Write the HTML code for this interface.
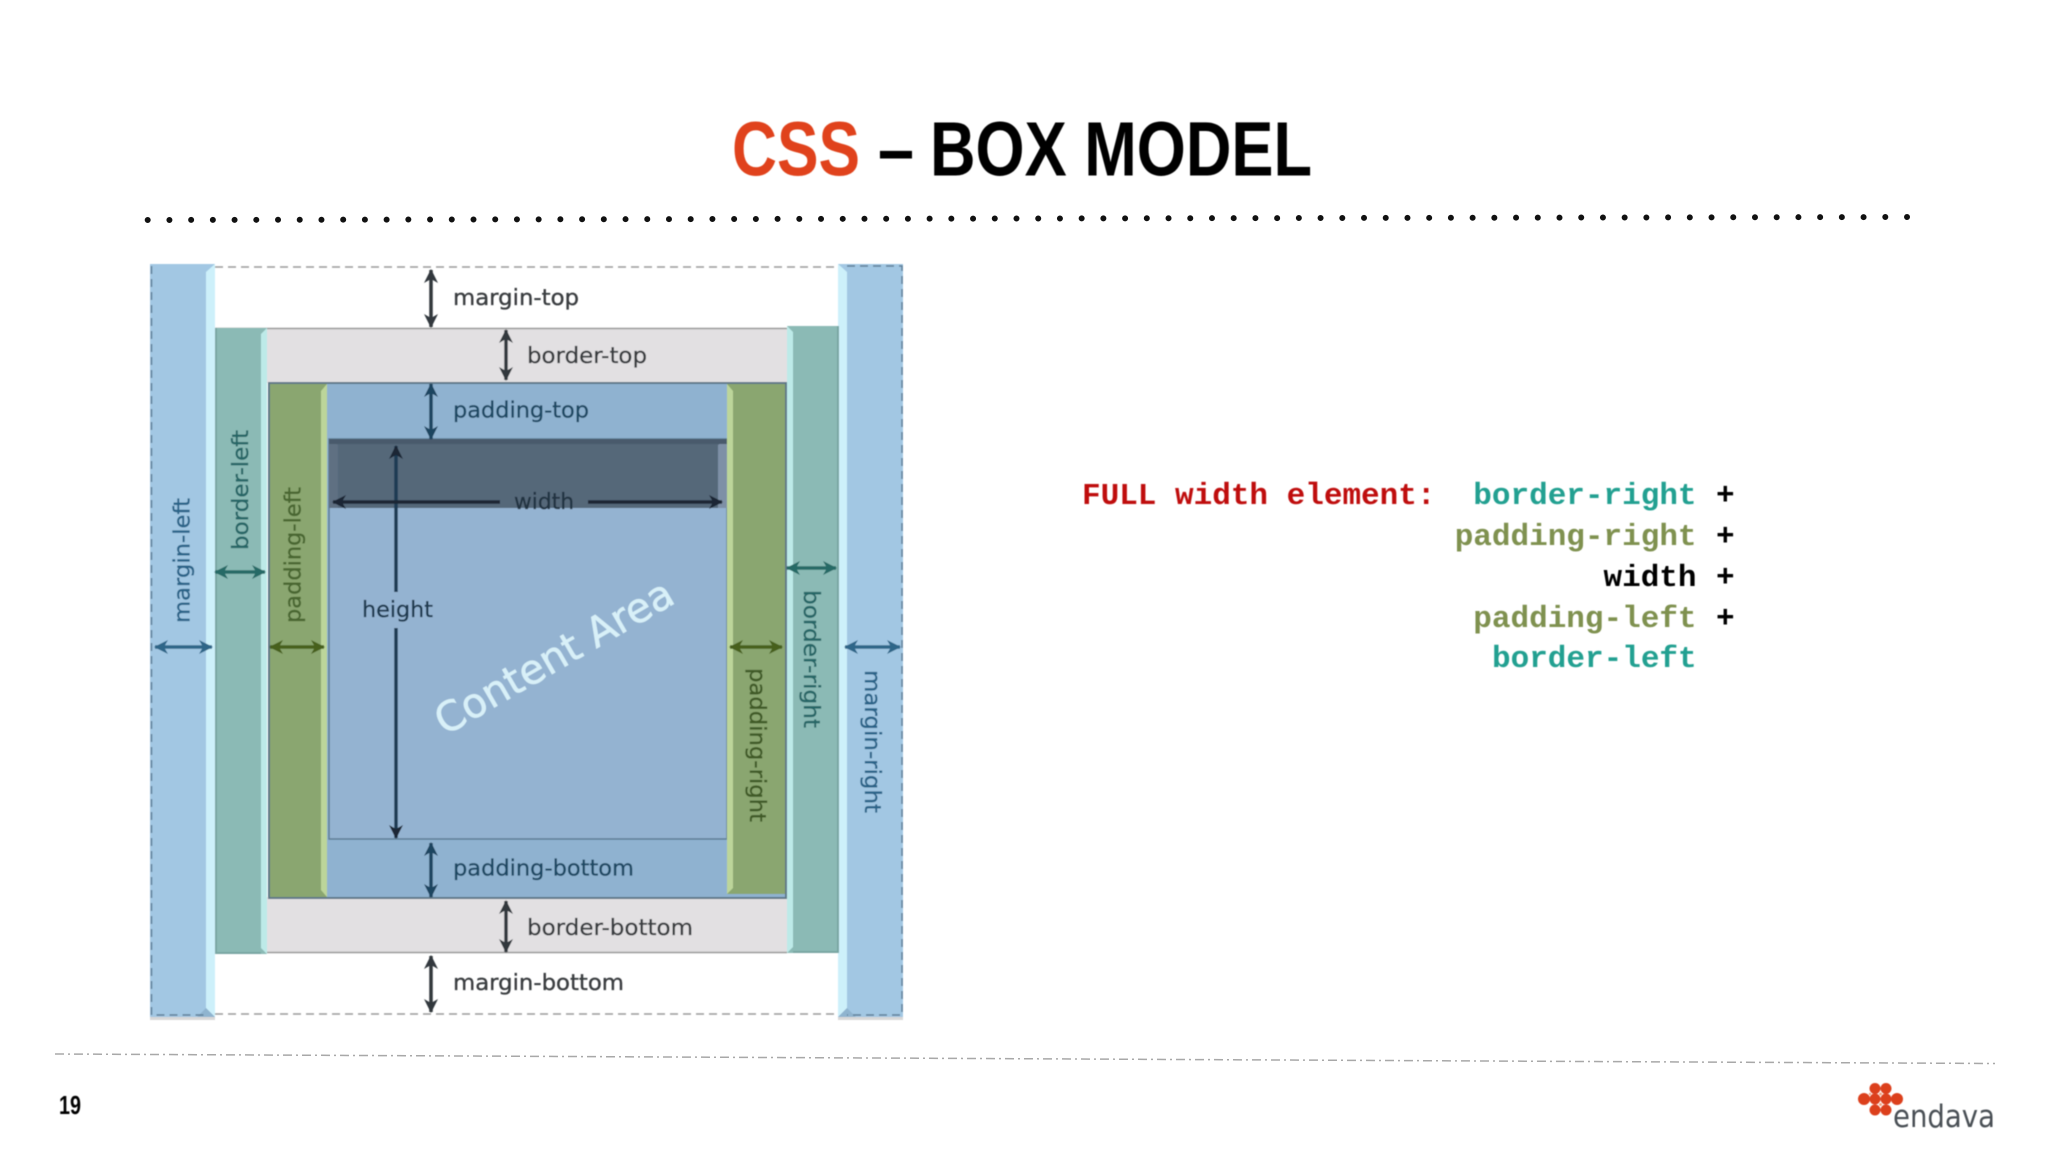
<!DOCTYPE html>
<html><head><meta charset="utf-8"><title>CSS Box Model</title>
<style>
html,body{margin:0;padding:0;background:#fff;width:2048px;height:1152px;overflow:hidden}
svg{display:block}
.l{font-family:"DejaVu Sans",sans-serif;font-size:22.5px;stroke-width:.35px}
.m{font-family:"Liberation Mono",monospace;font-weight:bold;font-size:31px}
.t{font-family:"Liberation Sans",sans-serif;font-weight:bold;font-size:77px}
</style></head><body>
<svg width="2048" height="1152" viewBox="0 0 2048 1152" xmlns="http://www.w3.org/2000/svg">
<defs>
<marker id="aD" markerUnits="userSpaceOnUse" markerWidth="16" markerHeight="16" refX="13" refY="8" orient="auto-start-reverse"><path d="M14,8 L0,1 L4,8 L0,15Z" fill="#33383d"/></marker>
<marker id="aN" markerUnits="userSpaceOnUse" markerWidth="16" markerHeight="16" refX="13" refY="8" orient="auto-start-reverse"><path d="M14,8 L0,1 L4,8 L0,15Z" fill="#1d4560"/></marker>
<marker id="aK" markerUnits="userSpaceOnUse" markerWidth="16" markerHeight="16" refX="13" refY="8" orient="auto-start-reverse"><path d="M14,8 L0,1 L4,8 L0,15Z" fill="#1a2835"/></marker>
<marker id="aT" markerUnits="userSpaceOnUse" markerWidth="16" markerHeight="16" refX="13" refY="8" orient="auto-start-reverse"><path d="M14,8 L0,1 L4,8 L0,15Z" fill="#256a66"/></marker>
<marker id="aO" markerUnits="userSpaceOnUse" markerWidth="16" markerHeight="16" refX="13" refY="8" orient="auto-start-reverse"><path d="M14,8 L0,1 L4,8 L0,15Z" fill="#46601f"/></marker>
<marker id="aB" markerUnits="userSpaceOnUse" markerWidth="16" markerHeight="16" refX="13" refY="8" orient="auto-start-reverse"><path d="M14,8 L0,1 L4,8 L0,15Z" fill="#2f6688"/></marker>
<filter id="b" x="-2%" y="-2%" width="104%" height="104%"><feGaussianBlur stdDeviation="0.6"/></filter>
</defs>
<rect width="2048" height="1152" fill="#fff"/>

<!-- Title -->
<g filter="url(#b)">
<text class="t" x="732" y="175.500" fill="#e0431c" textLength="128" lengthAdjust="spacingAndGlyphs">CSS</text>
<text class="t" x="878" y="175.500" fill="#000" textLength="36" lengthAdjust="spacingAndGlyphs">–</text>
<text class="t" x="930" y="175.500" fill="#000" textLength="382" lengthAdjust="spacingAndGlyphs">BOX MODEL</text>
</g>
<line x1="147.700" y1="220" x2="1908" y2="217" stroke="#111" stroke-width="6" stroke-linecap="round" stroke-dasharray="0 21.720"/>

<!-- Diagram -->
<g filter="url(#b)">
<rect x="150" y="1017" width="65" height="3" fill="#d8d8d8"/>
<rect x="838" y="1017" width="65" height="3" fill="#d8d8d8"/>
<path d="M215,267 H838 M215,1014 H838" fill="none" stroke="#9a9a9a" stroke-width="1.500" stroke-dasharray="8 5"/>
<rect x="267" y="328" width="520" height="55" fill="#e2e0e2"/>
<rect x="267" y="897" width="520" height="56" fill="#e2e0e2"/>
<path d="M215,328.500 H787 M215,952.500 H787" stroke="#9a9a9a" stroke-width="1.500" fill="none"/>
<rect x="269" y="383" width="517" height="515" fill="#8fb2d0" stroke="#5f7888" stroke-width="2"/>
<rect x="329" y="439" width="398" height="400" fill="#94b3d1" stroke="#5d7c94" stroke-width="1.500"/>
<rect x="329" y="439" width="398" height="69" fill="#556779"/>
<path d="M329,439 L338,445 V508 H329Z" fill="#5f7082"/>
<path d="M727,439 L718,445 V508 H727Z" fill="#7e90a6"/>
<rect x="329" y="439" width="398" height="5" fill="#485a6c"/>
<rect x="150" y="264" width="65" height="753" fill="#a2c7e3"/>
<path d="M215,264 L206,272 V1008 L215,1017Z" fill="#cdf0fa"/>
<path d="M206,1008 L215,1017 H197Z" fill="#8fb4cf"/>
<path d="M151.500,266 V1015 H206" fill="none" stroke="#5f7f98" stroke-width="1.500" stroke-dasharray="8 5"/>
<rect x="838" y="264" width="65" height="753" fill="#a2c7e3"/>
<path d="M838,264 L847,272 V1008 L838,1017Z" fill="#cdf0fa"/>
<path d="M847,1008 L838,1017 H856Z" fill="#8fb4cf"/>
<path d="M847,266 H902 V1015 H847" fill="none" stroke="#5f7f98" stroke-width="1.500" stroke-dasharray="8 5"/>
<rect x="215" y="328" width="52" height="626" fill="#8bbab5"/>
<path d="M267,328 L261,334 V948 L267,954Z" fill="#bdeae8"/>
<rect x="215" y="328" width="2" height="626" fill="#79a6a3"/>
<rect x="215" y="952" width="46" height="2" fill="#79a6a3"/>
<rect x="787" y="326" width="52" height="627" fill="#8bbab5"/>
<path d="M787,326 L793,332 V947 L787,953Z" fill="#bdeae8"/>
<rect x="837" y="326" width="2" height="627" fill="#79a6a3"/>
<rect x="793" y="951" width="46" height="2" fill="#79a6a3"/>
<rect x="270" y="384" width="57" height="513" fill="#8aa66f"/>
<path d="M327,384 L321,391 V890 L327,897Z" fill="#bcd59a"/>
<rect x="727" y="384" width="58" height="510" fill="#8aa66f"/>
<path d="M727,384 L733,391 V888 L727,894Z" fill="#bcd59a"/>

<!-- Arrows -->
<g fill="none" stroke-width="3.500">
<line x1="431" y1="270" x2="431" y2="327" stroke="#33383d" marker-start="url(#aD)" marker-end="url(#aD)"/>
<line x1="506" y1="330" x2="506" y2="380" stroke="#33383d" marker-start="url(#aD)" marker-end="url(#aD)"/>
<line x1="431" y1="384" x2="431" y2="439" stroke="#1d4560" marker-start="url(#aN)" marker-end="url(#aN)"/>
<line x1="431" y1="843" x2="431" y2="897" stroke="#1d4560" marker-start="url(#aN)" marker-end="url(#aN)"/>
<line x1="506" y1="901" x2="506" y2="952" stroke="#33383d" marker-start="url(#aD)" marker-end="url(#aD)"/>
<line x1="431" y1="956" x2="431" y2="1012" stroke="#33383d" marker-start="url(#aD)" marker-end="url(#aD)"/>
<line x1="396" y1="446" x2="396" y2="592" stroke="#1a3a52" marker-start="url(#aK)"/>
<line x1="396" y1="628" x2="396" y2="838" stroke="#1a3a52" marker-end="url(#aK)"/>
<line x1="333" y1="502" x2="500" y2="502" stroke="#1a2835" marker-start="url(#aK)"/>
<line x1="588" y1="502" x2="722" y2="502" stroke="#1a2835" marker-end="url(#aK)"/>
<line x1="215" y1="572" x2="265" y2="572" stroke="#256a66" marker-start="url(#aT)" marker-end="url(#aT)"/>
<line x1="787" y1="568" x2="836" y2="568" stroke="#256a66" marker-start="url(#aT)" marker-end="url(#aT)"/>
<line x1="155" y1="647" x2="212" y2="647" stroke="#2f6688" marker-start="url(#aB)" marker-end="url(#aB)"/>
<line x1="845" y1="647" x2="900" y2="647" stroke="#2f6688" marker-start="url(#aB)" marker-end="url(#aB)"/>
<line x1="270" y1="647" x2="324" y2="647" stroke="#46601f" marker-start="url(#aO)" marker-end="url(#aO)"/>
<line x1="730" y1="647" x2="782" y2="647" stroke="#46601f" marker-start="url(#aO)" marker-end="url(#aO)"/>
</g>

<!-- Labels -->
<text class="l" x="453" y="305" fill="#3a3d40" stroke="#3a3d40" textLength="126" lengthAdjust="spacingAndGlyphs">margin-top</text>
<text class="l" x="527" y="363" fill="#3a3d40" stroke="#3a3d40" textLength="120" lengthAdjust="spacingAndGlyphs">border-top</text>
<text class="l" x="453" y="417.500" fill="#1f4863" stroke="#1f4863" textLength="136" lengthAdjust="spacingAndGlyphs">padding-top</text>
<text class="l" x="453" y="875.500" fill="#1f4863" stroke="#1f4863" textLength="181" lengthAdjust="spacingAndGlyphs">padding-bottom</text>
<text class="l" x="527" y="935" fill="#3a3d40" stroke="#3a3d40" textLength="166" lengthAdjust="spacingAndGlyphs">border-bottom</text>
<text class="l" x="453" y="990" fill="#3a3d40" stroke="#3a3d40" textLength="171" lengthAdjust="spacingAndGlyphs">margin-bottom</text>
<text class="l" x="362" y="617" fill="#1f3a50" stroke="#1f3a50" textLength="71" lengthAdjust="spacingAndGlyphs">height</text>
<text class="l" x="514" y="509" fill="#243442" stroke="#243442" textLength="60" lengthAdjust="spacingAndGlyphs">width</text>
<text class="l" transform="translate(189.500,623) rotate(-90)" fill="#2a6488" stroke="#2a6488" textLength="125" lengthAdjust="spacingAndGlyphs">margin-left</text>
<text class="l" transform="translate(248,550) rotate(-90)" fill="#276666" stroke="#276666" textLength="120" lengthAdjust="spacingAndGlyphs">border-left</text>
<text class="l" transform="translate(300.500,623) rotate(-90)" fill="#486630" stroke="#486630" textLength="136" lengthAdjust="spacingAndGlyphs">padding-left</text>
<text class="l" transform="translate(804,590) rotate(90)" fill="#276666" stroke="#276666" textLength="138" lengthAdjust="spacingAndGlyphs">border-right</text>
<text class="l" transform="translate(750,668) rotate(90)" fill="#3f5a28" stroke="#3f5a28" textLength="154" lengthAdjust="spacingAndGlyphs">padding-right</text>
<text class="l" transform="translate(865,670) rotate(90)" fill="#2a6488" stroke="#2a6488" textLength="143" lengthAdjust="spacingAndGlyphs">margin-right</text>
<text transform="translate(445,736) rotate(-30)" font-family="DejaVu Sans, sans-serif" font-size="41" fill="#d8f0f8" stroke="#d8f0f8" stroke-width=".5" textLength="268" lengthAdjust="spacingAndGlyphs">Content Area</text>
</g>

<!-- Right text -->
<g filter="url(#b)">
<text class="m" x="1082" y="504" fill="#bf0f0f">FULL width element:</text>
<text class="m" x="1473.300" y="504" fill="#24a091">border-right</text>
<text class="m" x="1454.700" y="545" fill="#7f9150">padding-right</text>
<text class="m" x="1603.500" y="586" fill="#000">width</text>
<text class="m" x="1473.300" y="627" fill="#7f9150">padding-left</text>
<text class="m" x="1492" y="667" fill="#24a091">border-left</text>
<text class="m" x="1716" y="504" fill="#000">+</text>
<text class="m" x="1716" y="545" fill="#000">+</text>
<text class="m" x="1716" y="586" fill="#000">+</text>
<text class="m" x="1716" y="627" fill="#000">+</text>
</g>

<!-- Footer -->
<line x1="55" y1="1054" x2="1995" y2="1063.500" stroke="#a8a8a8" stroke-width="1.500" stroke-dasharray="9 4 2 4"/>
<g filter="url(#b)">
<text x="59" y="1114" font-family="Liberation Sans, sans-serif" font-weight="bold" font-size="26" fill="#000" textLength="22" lengthAdjust="spacingAndGlyphs">19</text>
<g fill="#dc3f1e">
<circle cx="1875" cy="1088.500" r="5.500"/><circle cx="1886" cy="1088.500" r="5.500"/>
<circle cx="1864" cy="1099" r="6"/><circle cx="1875" cy="1099" r="5.500"/><circle cx="1886" cy="1099" r="5.500"/><circle cx="1897" cy="1099" r="6"/>
<circle cx="1875" cy="1110" r="5.500"/><circle cx="1886" cy="1110" r="5.500"/>
</g>
<circle cx="1880.500" cy="1094" r="1.500" fill="#f3a27e"/><circle cx="1880.500" cy="1104.500" r="1.500" fill="#f3a27e"/><circle cx="1870" cy="1094" r="1.200" fill="#f3a27e"/>
<text x="1893" y="1127" font-family="DejaVu Sans, sans-serif" font-size="31" fill="#4a5055" textLength="102" lengthAdjust="spacingAndGlyphs">endava</text>
</g>
</svg>
</body></html>
